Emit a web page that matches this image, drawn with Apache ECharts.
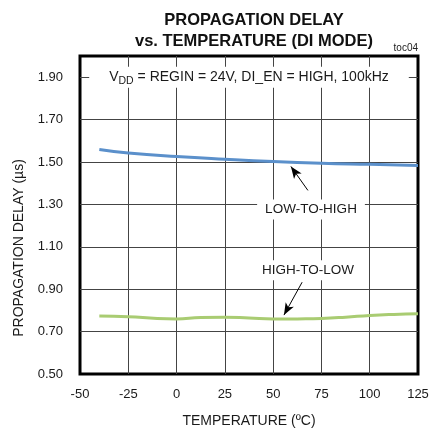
<!DOCTYPE html>
<html lang="en">
<head>
    <meta charset="UTF-8">
    <title>Propagation delay vs temperature</title>
    <script src="https://cdn.jsdelivr.net/npm/echarts@6/dist/echarts.min.js"></script>
    <style>
        body { margin: 0; background: #fff; }
        #main { width: 433px; height: 435px; }
    </style>
</head>
<body>
<div id="main"></div>
<script>
    // data
    var tempsLH = [-40, -25, 0, 25, 50, 75, 100, 125];
    var delayLH = [1.559, 1.543, 1.526, 1.513, 1.502, 1.494, 1.489, 1.484];

    var tempsHL = [-40, -25, -10, 0, 12.5, 25, 37.5, 50, 62.5, 75, 87.5, 100, 112.5, 125];
    var delayHL = [0.774, 0.770, 0.762, 0.760, 0.767, 0.768, 0.764, 0.759, 0.760, 0.762, 0.768, 0.776, 0.781, 0.784];

    var xMin = -50, xMax = 125, xStep = 25;
    var yMin = 0.5, yMax = 2.0, yStep = 0.2;

    var FONT = '"Liberation Sans", Arial, sans-serif';

    function pairs(xs, ys) {
        return xs.map(function (x, i) { return [x, ys[i]]; });
    }

    var chart = echarts.init(document.getElementById('main'));

    var option = {
        animation: false,
        title: {
            text: 'PROPAGATION DELAY\nvs. TEMPERATURE (DI MODE)',
            left: 249,
            top: 5,
            textAlign: 'center',
            textStyle: { fontFamily: FONT, fontSize: 16.5, fontWeight: 'bold', lineHeight: 21, color: '#111' }
        },
        grid: {
            left: 80, right: 15, top: 56, bottom: 61,
            show: true, borderColor: '#000', borderWidth: 3
        },
        xAxis: {
            type: 'value',
            min: xMin, max: xMax, interval: xStep,
            axisLine: { show: false },
            axisTick: { show: false },
            axisLabel: { fontFamily: FONT, fontSize: 13, color: '#1a1a1a', margin: 14 },
            splitLine: { showMinLine: false, showMaxLine: false, lineStyle: { color: '#444', width: 1 } }
        },
        yAxis: {
            type: 'value',
            min: yMin, max: yMax, interval: yStep,
            axisLine: { show: false },
            axisTick: { show: false },
            axisLabel: {
                fontFamily: FONT, fontSize: 13, color: '#1a1a1a', margin: 17,
                showMaxLabel: false,
                formatter: function (v) { return v > 1.95 ? '' : v.toFixed(2); }
            },
            splitLine: { showMinLine: false, showMaxLine: false, lineStyle: { color: '#444', width: 1 } }
        },
        series: [{
            name: 'LOW-TO-HIGH',
            type: 'line',
            smooth: true,
            symbol: 'none',
            data: pairs(tempsLH, delayLH),
            lineStyle: { color: '#5b90cb', width: 3 },
            markPoint: {
                symbol: 'rect', symbolSize: 0,
                label: {
                    show: true, position: 'inside', fontFamily: FONT, fontSize: 13.5, color: '#1a1a1a',
                    backgroundColor: '#fff', padding: [3, 8]
                },
                data: [
                    { coord: [69.6, 1.276], label: { formatter: 'LOW-TO-HIGH' } },
                    {
                        coord: [37.5, 1.90],
                        label: {
                            formatter: '{a|V}{s|DD}{a| = REGIN = 24V, DI_EN = HIGH, 100kHz}',
                            padding: [1, 20],
                            rich: {
                                a: { fontFamily: FONT, fontSize: 14, color: '#1a1a1a' },
                                s: { fontFamily: FONT, fontSize: 10.5, color: '#1a1a1a', padding: [8, 0, 0, 0] }
                            }
                        }
                    }
                ]
            },
            markLine: {
                silent: true,
                symbol: ['none', 'arrow'],
                symbolSize: [7, 12],
                label: { show: false },
                lineStyle: { color: '#000', width: 1, type: 'solid' },
                data: [[{ coord: [68, 1.366] }, { coord: [59.2, 1.479] }]]
            }
        }, {
            name: 'HIGH-TO-LOW',
            type: 'line',
            smooth: true,
            symbol: 'none',
            data: pairs(tempsHL, delayHL),
            lineStyle: { color: '#a9cc72', width: 3 },
            markPoint: {
                symbol: 'rect', symbolSize: 0,
                label: {
                    show: true, position: 'inside', fontFamily: FONT, fontSize: 13.5, color: '#1a1a1a',
                    backgroundColor: '#fff', padding: [3, 6]
                },
                data: [{ coord: [68, 0.989], label: { formatter: 'HIGH-TO-LOW' } }]
            },
            markLine: {
                silent: true,
                symbol: ['none', 'arrow'],
                symbolSize: [7, 12],
                label: { show: false },
                lineStyle: { color: '#000', width: 1, type: 'solid' },
                data: [[{ coord: [65, 0.933] }, { coord: [55.6, 0.778] }]]
            }
        }],
        graphic: [{
            type: 'text',
            right: 15, top: 43,
            style: { text: 'toc04', fontFamily: FONT, fontSize: 10, fill: '#222' }
        }, {
            type: 'text',
            x: 19, y: 248,
            rotation: Math.PI / 2,
            style: {
                text: 'PROPAGATION DELAY (\u00b5s)', fontFamily: FONT, fontSize: 14, fill: '#1a1a1a',
                align: 'center', verticalAlign: 'middle'
            }
        }, {
            type: 'text',
            x: 249, y: 421,
            style: {
                text: 'TEMPERATURE (\u00baC)', fontFamily: FONT, fontSize: 14, fill: '#1a1a1a',
                align: 'center', verticalAlign: 'middle'
            }
        }]
    };

    chart.setOption(option);
</script>
</body>
</html>
